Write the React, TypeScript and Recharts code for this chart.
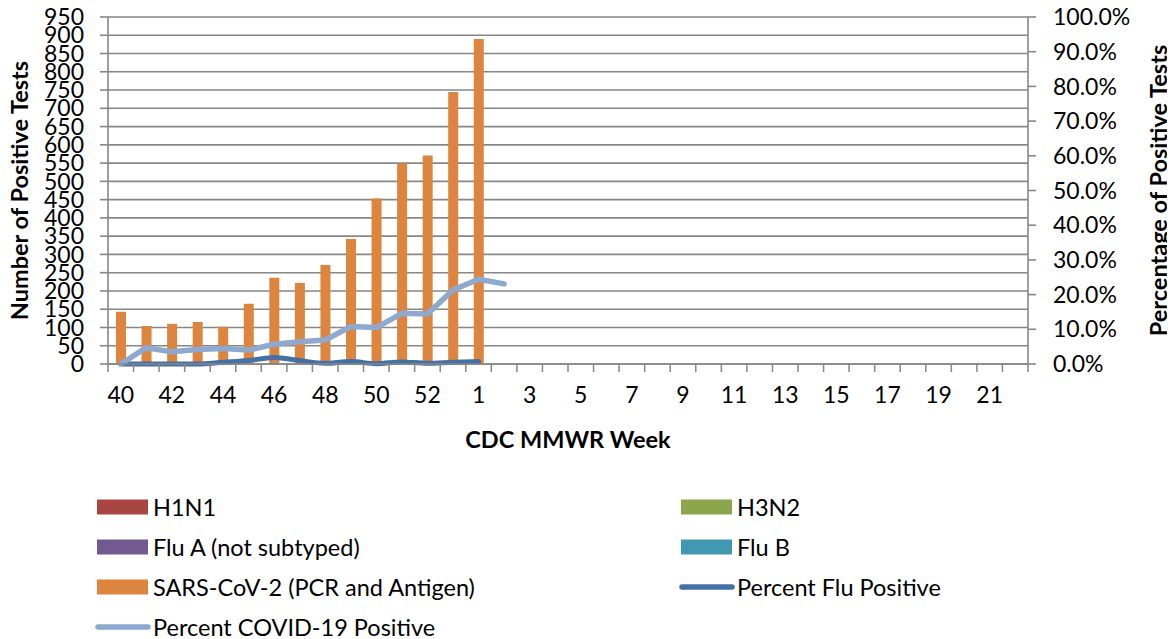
import React from "react";
import { ComposedChart, Bar, Line, XAxis, YAxis, CartesianGrid, Legend } from "recharts";

// CDC MMWR weeks shown on the x axis
const weeks = [
  "40", "41", "42", "43", "44", "45", "46", "47", "48", "49", "50", "51", "52", "53",
  "1", "2", "3", "4", "5", "6", "7", "8", "9", "10", "11", "12", "13", "14", "15",
  "16", "17", "18", "19", "20", "21", "22",
];

// positive test counts (weeks 40 .. 1)
const h1n1 = [0, 0, 0, 0, 0, 0, 0, 0, 0, 0, 0, 0, 0, 0, 0];
const h3n2 = [0, 0, 0, 0, 0, 0, 0, 0, 0, 0, 0, 0, 0, 0, 0];
const fluA = [0, 0, 0, 0, 0, 0, 0, 0, 0, 0, 0, 0, 0, 0, 0];
const fluB = [0, 0, 0, 0, 0, 0, 3, 0, 0, 0, 0, 0, 0, 0, 0];
const sars = [143, 104, 110, 115, 102, 165, 233, 222, 271, 342, 453, 549, 571, 745, 890];

// percent positive (fraction)
const pctFlu = [0, 0, 0, 0, 0.005, 0.01, 0.019, 0.01, 0.002, 0.007, 0.001, 0.006, 0.002, 0.005, 0.007];
const pctCovid = [0, 0.047, 0.035, 0.042, 0.045, 0.04, 0.057, 0.064, 0.069, 0.108, 0.105, 0.146, 0.144, 0.213, 0.244, 0.231];

const countTicks = [0, 50, 100, 150, 200, 250, 300, 350, 400, 450, 500, 550, 600, 650, 700, 750, 800, 850, 900, 950];
const pctTicks = [0, 0.1, 0.2, 0.3, 0.4, 0.5, 0.6, 0.7, 0.8, 0.9, 1];

const COLORS = {
  h1n1: "#A94644",
  h3n2: "#8BA64D",
  fluA: "#72598F",
  fluB: "#4099B1",
  sars: "#DD843F",
  flu: "#4470A6",
  covid: "#8EA9D0",
  grid: "#878787",
};

const FONT = "Lato, 'Liberation Sans', sans-serif";
const PLOT_W = 920;
const TICK_SIZE = 8;
const TICK_MARGIN = 15;

const data = weeks.map((week, i) => ({
  week,
  h1n1: h1n1[i] ?? null,
  h3n2: h3n2[i] ?? null,
  fluA: fluA[i] ?? null,
  fluB: fluB[i] ?? null,
  sars: sars[i] ?? null,
  pctFlu: pctFlu[i] ?? null,
  pctCovid: pctCovid[i] ?? null,
}));

const legendItems = [
  { name: "H1N1", color: COLORS.h1n1, line: false },
  { name: "H3N2", color: COLORS.h3n2, line: false },
  { name: "Flu A (not subtyped)", color: COLORS.fluA, line: false },
  { name: "Flu B", color: COLORS.fluB, line: false },
  { name: "SARS-CoV-2 (PCR and Antigen)", color: COLORS.sars, line: false },
  { name: "Percent Flu Positive", color: COLORS.flu, line: true },
  { name: "Percent COVID-19 Positive", color: COLORS.covid, line: true },
];

// Excel style: tick marks between categories, label every other week
function WeekTick(props: any) {
  const { x, y, payload, index } = props;
  const half = PLOT_W / weeks.length / 2;
  const y0 = y - TICK_MARGIN - TICK_SIZE;
  const y1 = y - TICK_MARGIN;
  return (
    <g>
      <line x1={x - half} x2={x - half} y1={y0} y2={y1} stroke={COLORS.grid} strokeWidth={1.5} />
      {index === weeks.length - 1 && (
        <line x1={x + half} x2={x + half} y1={y0} y2={y1} stroke={COLORS.grid} strokeWidth={1.5} />
      )}
      {index % 2 === 0 && (
        <text x={x} y={y} dy="0.71em" textAnchor="middle" fontSize={23} fontFamily={FONT} fill="#000">
          {payload.value}
        </text>
      )}
    </g>
  );
}

function ChartLegend() {
  return (
    <div style={{ display: "grid", gridTemplateColumns: "584px 420px", fontFamily: FONT, fontSize: 23.5, color: "#000" }}>
      {legendItems.map((it) => (
        <div key={it.name} style={{ display: "flex", alignItems: "center", height: 40, whiteSpace: "nowrap" }}>
          <svg width={56} height={16} style={{ marginRight: 2, flex: "none" }}>
            {it.line ? (
              <line x1={3} x2={53} y1={8} y2={8} stroke={it.color} strokeWidth={5.5} strokeLinecap="round" />
            ) : (
              <rect x={2} y={0.5} width={51} height={15} fill={it.color} />
            )}
          </svg>
          <span>{it.name}</span>
        </div>
      ))}
    </div>
  );
}

export default function App() {
  const tickStyle = { fontSize: 23, fontFamily: FONT, fill: "#000" };
  const titleStyle = { fontSize: 23.5, fontFamily: FONT, fontWeight: 700, fill: "#000", textAnchor: "middle" as const };
  return (
    <div style={{ width: 1167, height: 631, background: "#fff" }}>
      <ComposedChart width={1167} height={631} data={data} margin={{ top: 9, right: 0, bottom: 175, left: 0 }} barSize={10}>
        <CartesianGrid vertical={false} stroke={COLORS.grid} strokeWidth={1.6} yAxisId="left" />
        <XAxis
          dataKey="week"
          interval={0}
          height={100}
          tickSize={TICK_SIZE}
          tickMargin={TICK_MARGIN}
          tickLine={false}
          axisLine={{ stroke: COLORS.grid, strokeWidth: 1.6 }}
          tick={<WeekTick />}
          label={{ value: "CDC MMWR Week", position: "insideTop", offset: 67, style: titleStyle }}
        />
        <YAxis
          yAxisId="left"
          width={100}
          domain={[0, 950]}
          ticks={countTicks}
          interval={0}
          tickSize={TICK_SIZE}
          tickMargin={16}
          tick={tickStyle}
          tickLine={{ stroke: COLORS.grid, strokeWidth: 1.6 }}
          axisLine={{ stroke: COLORS.grid, strokeWidth: 1.6 }}
          label={{ value: "Number of Positive Tests", angle: -90, position: "insideLeft", offset: 12, style: titleStyle }}
        />
        <YAxis
          yAxisId="right"
          orientation="right"
          width={147}
          domain={[0, 1]}
          ticks={pctTicks}
          interval={0}
          tickSize={TICK_SIZE}
          tickMargin={17}
          tick={tickStyle}
          tickFormatter={(v: number) => `${(v * 100).toFixed(1)}%`}
          tickLine={{ stroke: COLORS.grid, strokeWidth: 1.6 }}
          axisLine={{ stroke: COLORS.grid, strokeWidth: 1.6 }}
          label={{ value: "Percentage of Positive Tests", angle: -90, position: "insideRight", offset: 16, style: titleStyle }}
        />
        <Legend
          layout="vertical"
          align="center"
          verticalAlign="middle"
          wrapperStyle={{ left: 87, top: 479, width: 1010 }}
          content={() => <ChartLegend />}
        />
        <Bar yAxisId="left" dataKey="h1n1" name="H1N1" stackId="a" fill={COLORS.h1n1} isAnimationActive={false} />
        <Bar yAxisId="left" dataKey="h3n2" name="H3N2" stackId="a" fill={COLORS.h3n2} isAnimationActive={false} />
        <Bar yAxisId="left" dataKey="fluA" name="Flu A (not subtyped)" stackId="a" fill={COLORS.fluA} isAnimationActive={false} />
        <Bar yAxisId="left" dataKey="fluB" name="Flu B" stackId="a" fill={COLORS.fluB} isAnimationActive={false} />
        <Bar yAxisId="left" dataKey="sars" name="SARS-CoV-2 (PCR and Antigen)" stackId="a" fill={COLORS.sars} isAnimationActive={false} />
        <Line
          yAxisId="right"
          type="monotone"
          dataKey="pctFlu"
          name="Percent Flu Positive"
          stroke={COLORS.flu}
          strokeWidth={5}
          strokeLinecap="round"
          strokeLinejoin="round"
          dot={false}
          activeDot={false}
          isAnimationActive={false}
        />
        <Line
          yAxisId="right"
          type="linear"
          dataKey="pctCovid"
          name="Percent COVID-19 Positive"
          stroke={COLORS.covid}
          strokeWidth={5.5}
          strokeLinecap="round"
          strokeLinejoin="round"
          dot={false}
          activeDot={false}
          isAnimationActive={false}
        />
      </ComposedChart>
    </div>
  );
}
